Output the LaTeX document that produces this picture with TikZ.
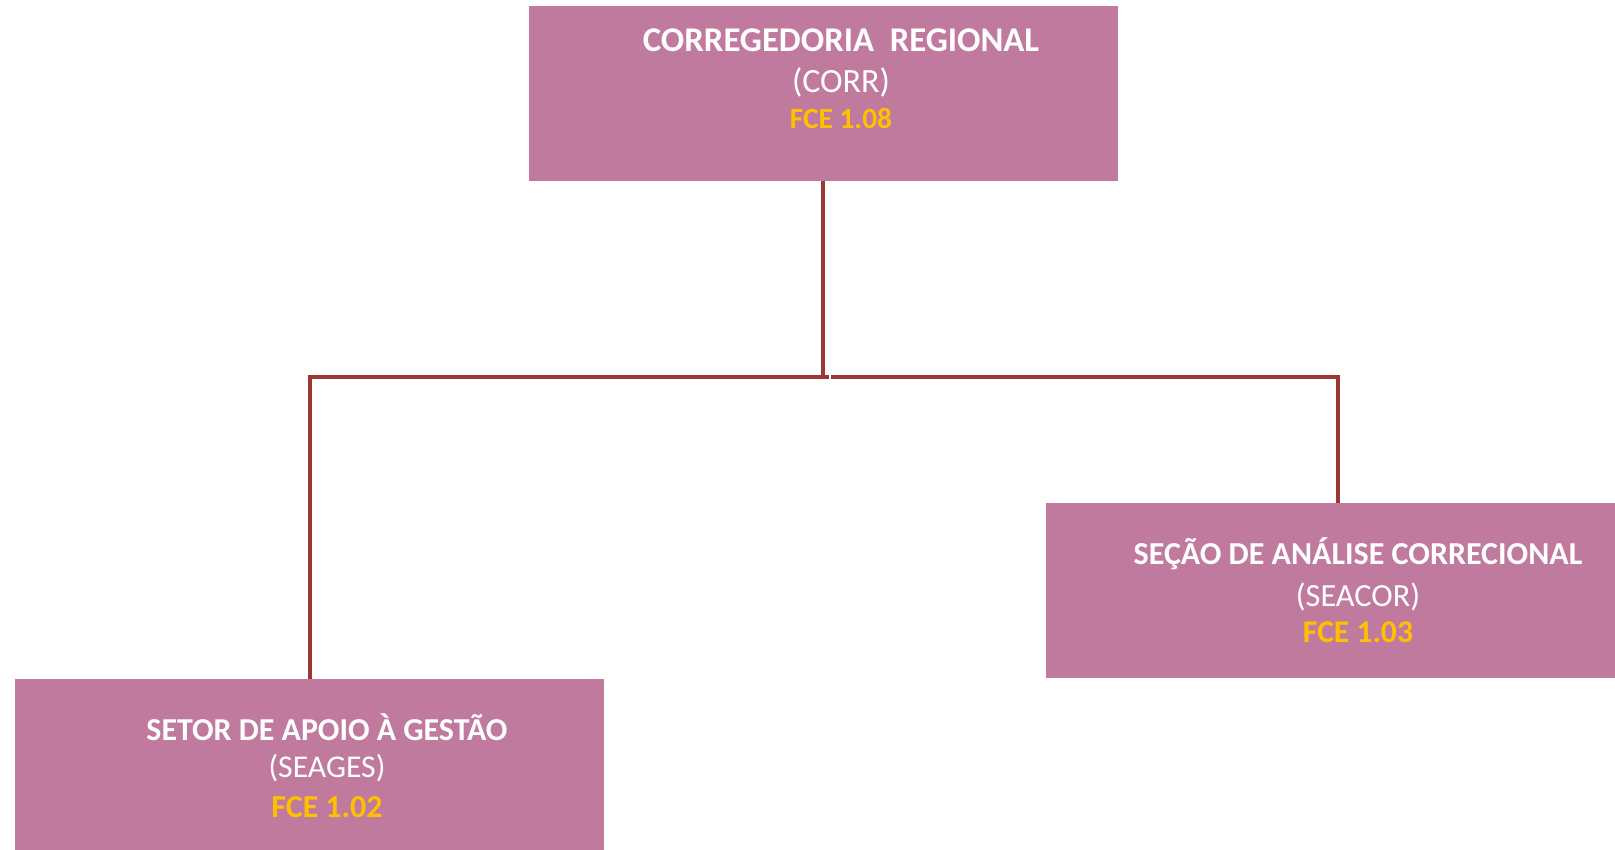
\documentclass[tikz,border=0pt]{standalone}
\usepackage{fontspec}
\setmainfont{Carlito}
\begin{document}
\begin{tikzpicture}[x=1pt,y=1pt,
  unitbox/.style={rectangle, fill=boxpink, draw=none, inner sep=0pt, outer sep=0pt},
  ttl/.style={anchor=base, text=white, font=\bfseries\fontsize{#1}{#1}\selectfont, inner sep=0pt},
  abbr/.style={anchor=base, text=white, font=\fontsize{#1}{#1}\selectfont, inner sep=0pt},
  fce/.style={anchor=base, text=fcegold, font=\bfseries\fontsize{#1}{#1}\selectfont, inner sep=0pt},
  conn/.style={draw=connred, line width=4pt, line join=miter}]
\definecolor{boxpink}{RGB}{192,122,158}
\definecolor{fcegold}{RGB}{255,192,0}
\definecolor{connred}{RGB}{155,56,52}
\useasboundingbox (0,0) rectangle (1615,-850);
% boxes
\node[unitbox, minimum width=589pt, minimum height=175pt] (corr) at (823.5,-93.5) {};
\node[unitbox, minimum width=589pt, minimum height=171pt] (seages) at (309.5,-764.5) {};
\node[unitbox, minimum width=569pt, minimum height=175pt] (seacor) at (1330.5,-590.5) {};
% texts
\node[ttl=34.7] (t1) at (841,-52) {CORREGEDORIA\ \ REGIONAL};
\node[abbr=34] (a1) at (841,-93) {(CORR)};
\node[fce=29.3] (f1) at (841,-129) {FCE 1.08};
\node[ttl=31.9] (t2) at (327,-740) {SETOR DE APOIO À GESTÃO};
\node[abbr=31.7] (a2) at (327,-777) {(SEAGES)};
\node[fce=31.9] (f2) at (327,-817) {FCE 1.02};
\node[ttl=32] (t3) at (1358,-564) {SEÇÃO DE ANÁLISE CORRECIONAL};
\node[abbr=32.3] (a3) at (1358,-606) {(SEACOR)};
\node[fce=31.6] (f3) at (1358,-642) {FCE 1.03};
% connectors
\coordinate (jtop) at (823,-375);
\coordinate (jl) at (828.5,-377);
\coordinate (jr) at (830.5,-377);
\coordinate (rtop) at (1338,-503);
\draw[conn] ([xshift=-0.5pt]corr.south) -- ([xshift=-0.5pt]corr.south |- jtop);
\draw[conn] (seages.north) |- (jl);
\draw[conn] (rtop) |- (jr);
\end{tikzpicture}
\end{document}
